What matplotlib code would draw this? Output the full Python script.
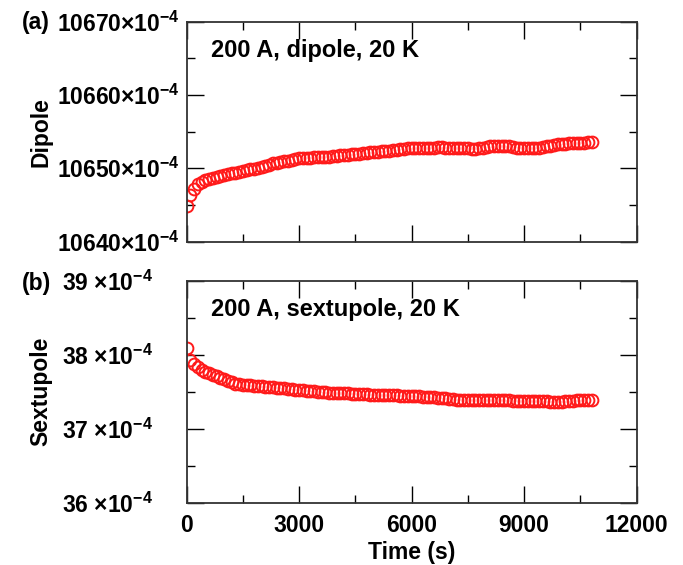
import numpy as np
import matplotlib
matplotlib.use('Agg')
import matplotlib.pyplot as plt
from matplotlib.ticker import MultipleLocator, FuncFormatter

plt.rcParams['font.family'] = ['Liberation Sans', 'DejaVu Sans']
plt.rcParams['font.weight'] = 'bold'
plt.rcParams['mathtext.fontset'] = 'custom'
plt.rcParams['mathtext.rm'] = 'Liberation Sans:bold'
plt.rcParams['mathtext.it'] = 'Liberation Sans:bold'
plt.rcParams['mathtext.bf'] = 'Liberation Sans:bold'

# 时间 (s)，每 100 s 一个点
time_s = np.arange(0, 10801, 100)

# 二极分量 (单位 1e-4)
dipole = [
    10644.8, 10646.3, 10647.2, 10647.8, 10648.1, 10648.35, 10648.5, 10648.65, 10648.8, 10648.95,
    10649.1, 10649.2, 10649.3, 10649.4, 10649.5, 10649.6, 10649.75, 10649.85, 10649.95, 10650.1,
    10650.2, 10650.35, 10650.5, 10650.65, 10650.75, 10650.85, 10650.95, 10651.05, 10651.15, 10651.25,
    10651.35, 10651.4, 10651.42, 10651.45, 10651.48, 10651.5, 10651.53, 10651.56, 10651.6, 10651.65,
    10651.7, 10651.75, 10651.8, 10651.85, 10651.9, 10651.95, 10652.0, 10652.05, 10652.1, 10652.15,
    10652.2, 10652.25, 10652.3, 10652.35, 10652.42, 10652.5, 10652.55, 10652.62, 10652.68, 10652.73,
    10652.78, 10652.8, 10652.82, 10652.8, 10652.78, 10652.8, 10652.82, 10652.85, 10652.85, 10652.83,
    10652.8, 10652.78, 10652.75, 10652.72, 10652.7, 10652.7, 10652.67, 10652.65, 10652.72, 10652.82,
    10652.9, 10652.98, 10653.03, 10653.07, 10653.1, 10653.06, 10652.98, 10652.88, 10652.8, 10652.76,
    10652.75, 10652.75, 10652.76, 10652.78, 10652.8, 10652.88, 10653.0, 10653.1, 10653.2, 10653.28,
    10653.32, 10653.35, 10653.4, 10653.42, 10653.45, 10653.48, 10653.5, 10653.52, 10653.55,
]

# 六极分量 (单位 1e-4)
sextupole = [
    38.09, 37.93, 37.87, 37.83, 37.80, 37.77, 37.75, 37.73, 37.71, 37.69,
    37.67, 37.65, 37.63, 37.61, 37.60, 37.595, 37.59, 37.585, 37.58, 37.58,
    37.575, 37.57, 37.565, 37.56, 37.555, 37.55, 37.545, 37.54, 37.535, 37.53,
    37.525, 37.52, 37.515, 37.51, 37.505, 37.50, 37.50, 37.495, 37.49, 37.49,
    37.485, 37.48, 37.48, 37.48, 37.475, 37.47, 37.47, 37.47, 37.465, 37.46,
    37.46, 37.46, 37.455, 37.455, 37.45, 37.45, 37.45, 37.445, 37.44, 37.44,
    37.44, 37.44, 37.44, 37.435, 37.43, 37.43, 37.425, 37.42, 37.415, 37.41,
    37.405, 37.40, 37.395, 37.39, 37.39, 37.39, 37.39, 37.39, 37.39, 37.39,
    37.395, 37.39, 37.39, 37.39, 37.39, 37.385, 37.385, 37.38, 37.38, 37.38,
    37.38, 37.38, 37.375, 37.375, 37.37, 37.37, 37.37, 37.365, 37.365, 37.36,
    37.36, 37.37, 37.375, 37.38, 37.385, 37.39, 37.39, 37.395, 37.395,
]

FS = 16.5
RED = '#ff1a1a'

fig = plt.figure(figsize=(6.83, 5.65), dpi=100)
ax1 = fig.add_axes([0.2733, 0.5724, 0.6589, 0.3894])
ax2 = fig.add_axes([0.2733, 0.1106, 0.6589, 0.3920])


def style_axis(ax):
    ax.tick_params(which='both', direction='in', top=True, right=True,
                   labelsize=FS, width=1.0, color='black')
    ax.tick_params(which='major', length=12)
    ax.tick_params(which='minor', length=6)
    for s in ax.spines.values():
        s.set_linewidth(1.3)
        s.set_color('#333333')
    ax.set_xlim(0, 12000)
    ax.xaxis.set_major_locator(MultipleLocator(3000))
    ax.xaxis.set_minor_locator(MultipleLocator(1500))


# (a) 二极
ax1.plot(time_s, dipole, 'o', mfc='none', mec=RED, ms=8.5, mew=1.4)
style_axis(ax1)
ax1.set_ylim(10640, 10670)
ax1.yaxis.set_major_locator(MultipleLocator(10))
ax1.yaxis.set_minor_locator(MultipleLocator(5))
ax1.yaxis.set_major_formatter(FuncFormatter(lambda v, p: f'{v:.0f}$\\times$10$^{{-4}}$'))
ax1.tick_params(axis='y', pad=5)
ax1.set_xticklabels([])
ax1.set_ylabel('Dipole', fontsize=FS, fontweight='bold')
ax1.yaxis.set_label_coords(-0.298, 0.5)
ax1.text(0.055, 0.87, '200 A, dipole, 20 K', transform=ax1.transAxes,
         fontsize=17, fontweight='bold', va='center')
fig.text(0.032, 0.961, '(a)', fontsize=FS, fontweight='bold', va='center')

# (b) 六极
ax2.plot(time_s, sextupole, 'o', mfc='none', mec=RED, ms=8.5, mew=1.4)
style_axis(ax2)
ax2.set_ylim(36, 39)
ax2.yaxis.set_major_locator(MultipleLocator(1))
ax2.yaxis.set_minor_locator(MultipleLocator(0.5))
ax2.yaxis.set_major_formatter(FuncFormatter(lambda v, p: f'{v:.0f} $\\times$10$^{{-4}}$'))
ax2.tick_params(axis='y', pad=24)
ax2.tick_params(axis='x', pad=8)
ax2.set_ylabel('Sextupole', fontsize=FS, fontweight='bold')
ax2.yaxis.set_label_coords(-0.298, 0.5)
ax2.set_xlabel('Time (s)', fontsize=FS, fontweight='bold', labelpad=3)
ax2.text(0.055, 0.87, '200 A, sextupole, 20 K', transform=ax2.transAxes,
         fontsize=17, fontweight='bold', va='center')
fig.text(0.032, 0.499, '(b)', fontsize=FS, fontweight='bold', va='center')

fig.savefig('out.png', dpi=100)
